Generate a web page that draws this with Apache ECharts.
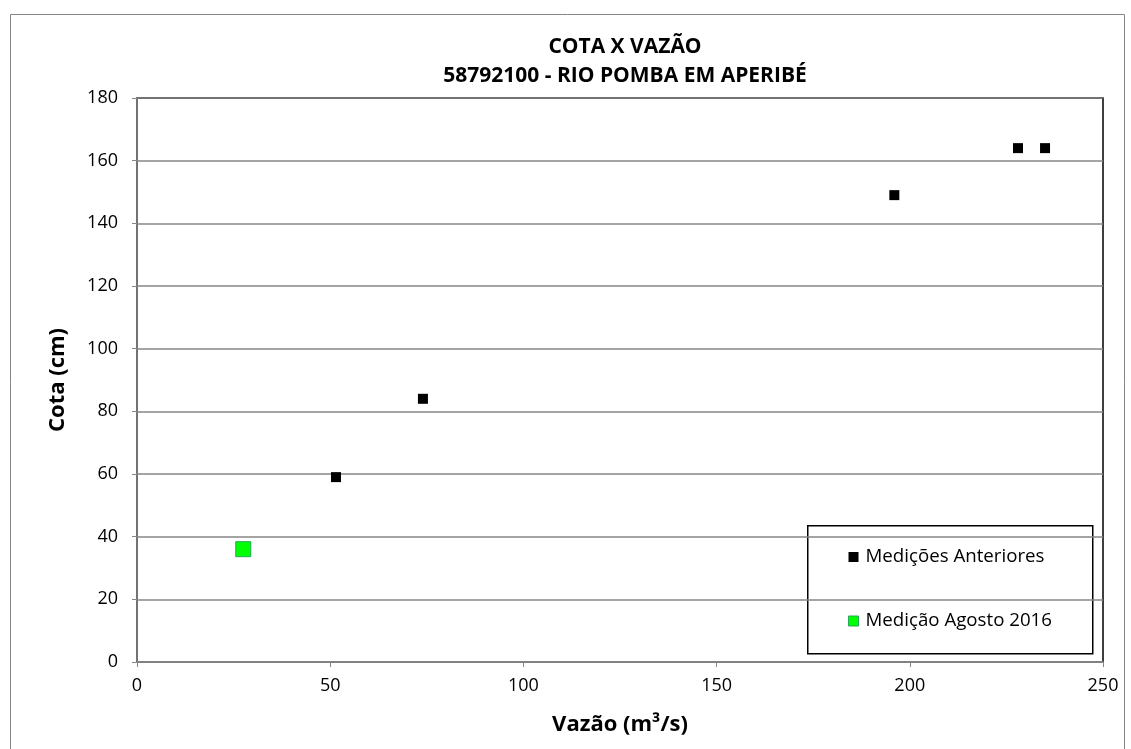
<!DOCTYPE html>
<html><head><meta charset="utf-8">
<script src="https://cdn.jsdelivr.net/npm/echarts@6/dist/echarts.min.js"></script>
<style>html,body{margin:0;padding:0;background:#fff}#c{width:1131px;height:749px}</style>
</head><body><div id="c"></div>
<script>
var titleLines = ['COTA X VAZÃO', '58792100 - RIO POMBA EM APERIBÉ'];
var xName = 'Vazão (m³/s)';
var yName = 'Cota (cm)';
var seriesNames = ['Medições Anteriores', 'Medição Agosto 2016'];
var prevQ = [51.5, 74, 196, 228, 235];
var prevH = [59, 84, 149, 164, 164];
var augQ = [27.5];
var augH = [36];

var F = '"Open Sans", Lato, sans-serif';
var chart = echarts.init(document.getElementById('c'));
chart.setOption({
  animation: false,
  backgroundColor: '#fff',
  title: {
    text: titleLines.join('\n'), left: 620, top: 28, textAlign: 'center',
    textStyle: {fontFamily: F, fontWeight: 'bold', fontSize: 21, color: '#000', lineHeight: 29}
  },
  grid: {left: 137, right: 28, top: 98, bottom: 87, show: true, borderColor: '#000', borderWidth: 1.5, backgroundColor: 'transparent'},
  xAxis: {
    type: 'value', min: 0, max: 250, interval: 50,
    name: xName, nameLocation: 'middle', nameGap: 52,
    nameTextStyle: {fontFamily: F, fontWeight: 'bold', fontSize: 22, color: '#000'},
    axisLine: {show: true, lineStyle: {color: '#868686', width: 1.5}},
    axisTick: {show: true, length: 5, lineStyle: {color: '#868686'}},
    axisLabel: {fontFamily: F, fontSize: 18, color: '#000', margin: 15},
    splitLine: {show: false}
  },
  yAxis: {
    type: 'value', min: 0, max: 180, interval: 20,
    name: yName, nameLocation: 'middle', nameGap: 68, nameRotate: 90,
    nameTextStyle: {fontFamily: F, fontWeight: 'bold', fontSize: 22, color: '#000'},
    axisLine: {show: true, lineStyle: {color: '#868686', width: 1.5}},
    axisTick: {show: true, length: 5, lineStyle: {color: '#868686'}},
    axisLabel: {fontFamily: F, fontSize: 18, color: '#000', margin: 19},
    splitLine: {show: true, lineStyle: {color: '#868686', width: 1.5}}
  },
  legend: {
    orient: 'vertical', left: 843, top: 540, itemGap: 40, itemWidth: 10, itemHeight: 10, z: 20,
    textStyle: {fontFamily: F, fontSize: 18.7, color: '#000', lineHeight: 24, padding: [0,0,0,2]},
    data: [
      {name: seriesNames[0], icon: 'rect'},
      {name: seriesNames[1], icon: 'rect', itemStyle: {color: '#00ff00', borderColor: '#22aa55', borderWidth: 1}}
    ]
  },
  graphic: {
    z: 10,
    elements: [
      {type: 'rect', left: 8, top: 12, shape: {width: 1114, height: 760}, style: {fill: 'none', stroke: '#868686', lineWidth: 1}},
      {type: 'rect', left: 807, top: 525, shape: {width: 285, height: 128}, style: {fill: '#fff', stroke: '#000', lineWidth: 1.5}}
    ]
  },
  series: [
    {name: seriesNames[0], type: 'scatter', symbol: 'rect', symbolSize: 10,
     itemStyle: {color: '#000', opacity: 1}, data: prevQ.map(function(q, i){return [q, prevH[i]];}), z: 3},
    {name: seriesNames[1], type: 'scatter', symbol: 'rect', symbolSize: 15,
     itemStyle: {color: '#00ff00', borderColor: '#22aa55', borderWidth: 1, opacity: 1}, data: augQ.map(function(q, i){return [q, augH[i]];}), z: 3}
  ]
});
</script></body></html>
